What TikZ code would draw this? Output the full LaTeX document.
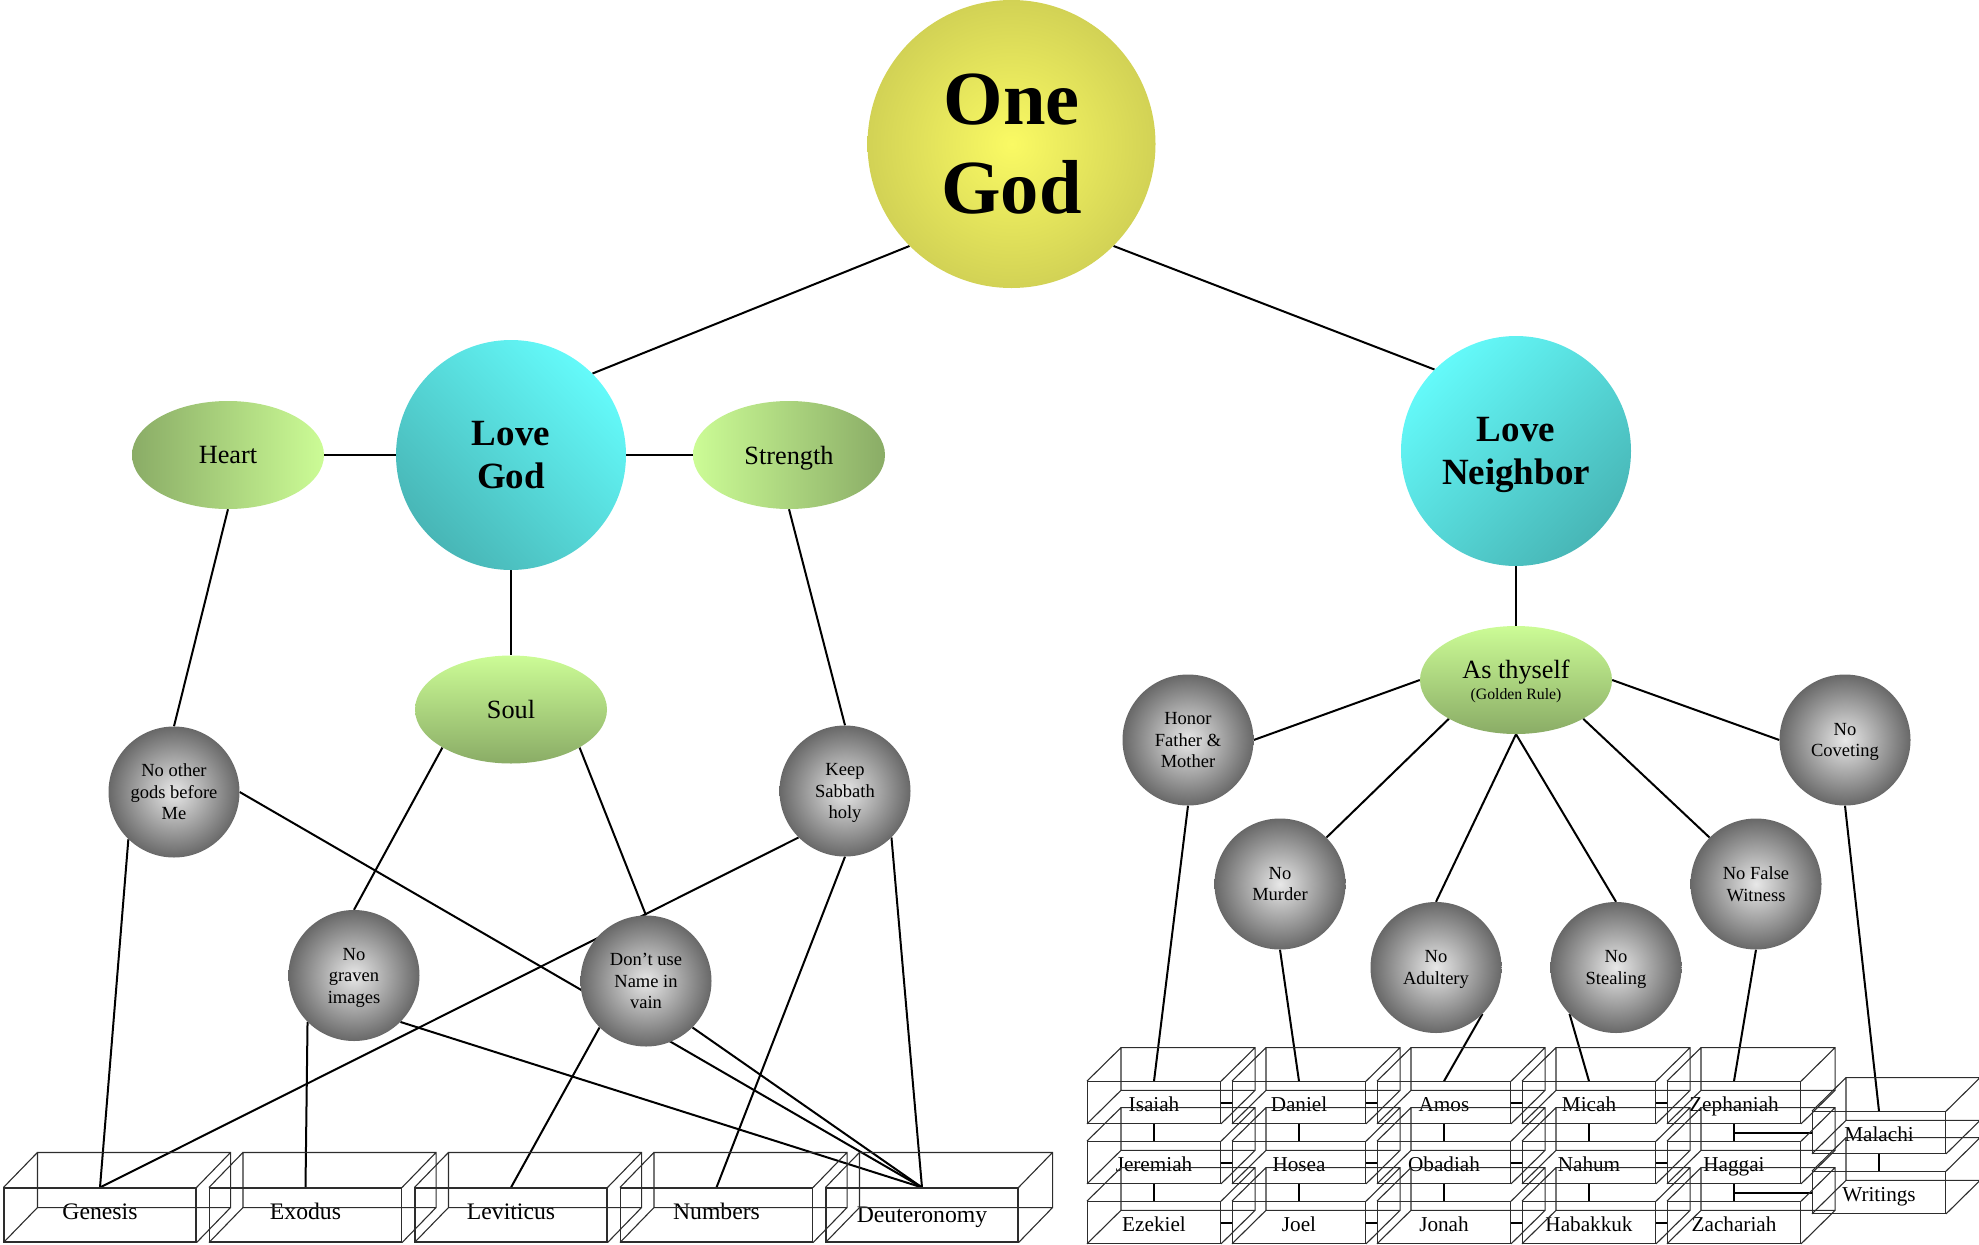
\documentclass[tikz,border=0pt]{standalone}
\usepackage{fontspec}
\setmainfont{Liberation Serif}
\usetikzlibrary{shapes.geometric}
\pgfdeclarelayer{bg}
\pgfsetlayers{bg,main}
\definecolor{yin}{RGB}{250,250,100}
\definecolor{yout}{RGB}{210,210,85}
\definecolor{cyanL}{RGB}{100,250,250}
\definecolor{cyanD}{RGB}{72,182,182}
\definecolor{greenL}{RGB}{204,252,150}
\definecolor{greenD}{RGB}{138,172,102}
\definecolor{grayin}{RGB}{232,232,232}
\definecolor{grayout}{RGB}{104,104,104}
\definecolor{boxc}{RGB}{45,45,45}
\begin{document}
\begin{tikzpicture}[x=1pt,y=-1pt,
  edge/.style={line width=2pt, black},
  boxline/.style={line width=1.1pt, boxc},
  godball/.style={circle, minimum size=288pt, inner sep=0pt, shading=radial, inner color=yin, outer color=yout, align=center, font=\fontsize{76.5}{89}\selectfont\bfseries},
  loveball/.style={circle, minimum size=230pt, inner sep=0pt, shading=axis, top color=cyanL, bottom color=cyanD, align=center, font=\fontsize{37}{42.7}\selectfont\bfseries},
  gell/.style={ellipse, minimum width=192pt, minimum height=108pt, inner sep=0pt, align=center, text depth=0pt, font=\fontsize{26.3}{20.7}\selectfont},
  gball/.style={circle, minimum size=131pt, inner sep=0pt, shading=radial, inner color=grayin, outer color=grayout, align=center, text depth=0pt, font=\fontsize{18.5}{21.5}\selectfont},
  bookL/.style={draw=boxc, line width=1.1pt, rectangle, minimum width=192pt, minimum height=54pt, inner sep=0pt, text height=10pt, text depth=2pt, font=\fontsize{23.7}{26}\selectfont},
  bookR/.style={draw=boxc, line width=1.1pt, rectangle, minimum width=133pt, minimum height=41.6pt, inner sep=0pt, text height=20pt, text depth=2pt, font=\fontsize{21.2}{24}\selectfont}
]
\useasboundingbox (0,0) rectangle (1979,1245);

% main nodes
\node[godball] (onegod) at (1011.5,144) {One\\God};
\node[loveball, shading angle=-45] (lovegod) at (511,455) {Love\\God};
\node[loveball, shading angle=45, text depth=0pt] (lovenbr) at (1516,451) {Love\\Neighbor};
\node[gell, left color=greenD, right color=greenL] (heart) at (228,455) {Heart};
\node[gell, left color=greenL, right color=greenD] (strength) at (789,455) {Strength};
\node[gell, top color=greenL, bottom color=greenD] (soul) at (511,709.5) {Soul};
\node[gell, top color=greenL, bottom color=greenD] (asthy) at (1516,680) {As thyself\\{\fontsize{15.8}{18}\selectfont(Golden Rule)}};

% commandments
\node[gball] (nog) at (174,792) {No other\\gods before\\Me};
\node[gball] (keep) at (845,791) {Keep\\Sabbath\\holy};
\node[gball] (graven) at (354,975.5) {No\\graven\\images};
\node[gball] (name) at (646,981) {Don’t use\\Name in\\vain};
\node[gball] (honor) at (1188,740) {Honor\\Father \&\\Mother};
\node[gball] (covet) at (1845,740) {No\\Coveting};
\node[gball] (murder) at (1280,884) {No\\Murder};
\node[gball] (witness) at (1756,884) {No False\\Witness};
\node[gball] (adultery) at (1436,967.5) {No\\Adultery};
\node[gball] (stealing) at (1616,967.5) {No\\Stealing};

% books of the law
\node[bookL] (gen) at (100,1215) {Genesis};
\node[bookL] (exo) at (305.5,1215) {Exodus};
\node[bookL] (lev) at (511,1215) {Leviticus};
\node[bookL] (num) at (716.5,1215) {Numbers};
\node[bookL, text height=17pt] (deu) at (922,1215) {Deuteronomy};

% prophets
\node[bookR] (isa) at (1154,1102.5) {Isaiah};
\node[bookR] (dan) at (1299,1102.5) {Daniel};
\node[bookR] (amos) at (1444,1102.5) {Amos};
\node[bookR] (mic) at (1589,1102.5) {Micah};
\node[bookR] (zeph) at (1734,1102.5) {Zephaniah};
\node[bookR] (jer) at (1154,1162.5) {Jeremiah};
\node[bookR] (hos) at (1299,1162.5) {Hosea};
\node[bookR] (oba) at (1444,1162.5) {Obadiah};
\node[bookR] (nah) at (1589,1162.5) {Nahum};
\node[bookR] (hag) at (1734,1162.5) {Haggai};
\node[bookR] (eze) at (1154,1222.5) {Ezekiel};
\node[bookR] (joel) at (1299,1222.5) {Joel};
\node[bookR] (jon) at (1444,1222.5) {Jonah};
\node[bookR] (hab) at (1589,1222.5) {Habakkuk};
\node[bookR] (zac) at (1734,1222.5) {Zachariah};
\node[bookR] (mal) at (1879,1132.5) {Malachi};
\node[bookR] (wri) at (1879,1192.5) {Writings};

% 3D back faces
\foreach \n in {gen,exo,lev,num,deu}{
  \draw[boxline] (\n.north west) -- ++(34pt,35pt) (\n.north east) -- ++(34pt,35pt)
    (\n.south west) -- ++(34pt,35pt) (\n.south east) -- ++(34pt,35pt)
    ([shift={(34pt,35pt)}]\n.south west) rectangle ([shift={(34pt,35pt)}]\n.north east);
}
\foreach \n in {isa,dan,amos,mic,zeph,jer,hos,oba,nah,hag,eze,joel,jon,hab,zac,mal,wri}{
  \draw[boxline] (\n.north west) -- ++(34pt,33.5pt) (\n.north east) -- ++(34pt,33.5pt)
    (\n.south west) -- ++(34pt,33.5pt) (\n.south east) -- ++(34pt,33.5pt)
    ([shift={(34pt,33.5pt)}]\n.south west) rectangle ([shift={(34pt,33.5pt)}]\n.north east);
}

\begin{pgfonlayer}{bg}
% left half
\draw[edge] (onegod.225) -- (lovegod.45);
\draw[edge] (onegod.-45) -- (lovenbr.135);
\draw[edge] (heart.east) -- (lovegod.west);
\draw[edge] (lovegod.east) -- (strength.west);
\draw[edge] (lovegod.south) -- (soul.north);
\draw[edge] (heart.south) -- (nog.north);
\draw[edge] (strength.south) -- (keep.north);
\draw[edge] (soul.209) -- (graven.north);
\draw[edge] (soul.331) -- (name.north);
\draw[edge] (nog.226) -- (gen.north);
\draw[edge] (nog.east) -- (deu.north);
\draw[edge] (graven.225) -- (exo.north);
\draw[edge] (graven.-45) -- (deu.north);
\draw[edge] (name.225) -- (lev.north);
\draw[edge] (name.-45) -- (deu.north);
\draw[edge] (keep.225) -- (gen.north);
\draw[edge] (keep.south) -- (num.north);
\draw[edge] (keep.-45) -- (deu.north);
% right half
\draw[edge] (lovenbr.south) -- (asthy.north);
\draw[edge] (asthy.west) -- (honor.east);
\draw[edge] (asthy.east) -- (covet.west);
\draw[edge] (asthy.210) -- (murder.45);
\draw[edge] (asthy.south) -- (adultery.north);
\draw[edge] (asthy.south) -- (stealing.north);
\draw[edge] (asthy.330) -- (witness.135);
\draw[edge] (honor.south) -- (isa.north);
\draw[edge] (murder.south) -- (dan.north);
\draw[edge] (adultery.-45) -- (amos.north);
\draw[edge] (stealing.225) -- (mic.north);
\draw[edge] (witness.south) -- (zeph.north);
\draw[edge] (covet.south) -- (mal.north);
% prophets grid
\foreach \a/\b in {isa/dan,dan/amos,amos/mic,mic/zeph,jer/hos,hos/oba,oba/nah,nah/hag,eze/joel,joel/jon,jon/hab,hab/zac}
  \draw[edge] (\a.east) -- (\b.west);
\foreach \a/\b in {isa/jer,jer/eze,dan/hos,hos/joel,amos/oba,oba/jon,mic/nah,nah/hab,zeph/hag,hag/zac,mal/wri}
  \draw[edge] (\a.south) -- (\b.north);
\draw[edge] (zeph.south) |- (mal.west);
\draw[edge] (hag.south) |- (wri.west);
\end{pgfonlayer}
\end{tikzpicture}
\end{document}
